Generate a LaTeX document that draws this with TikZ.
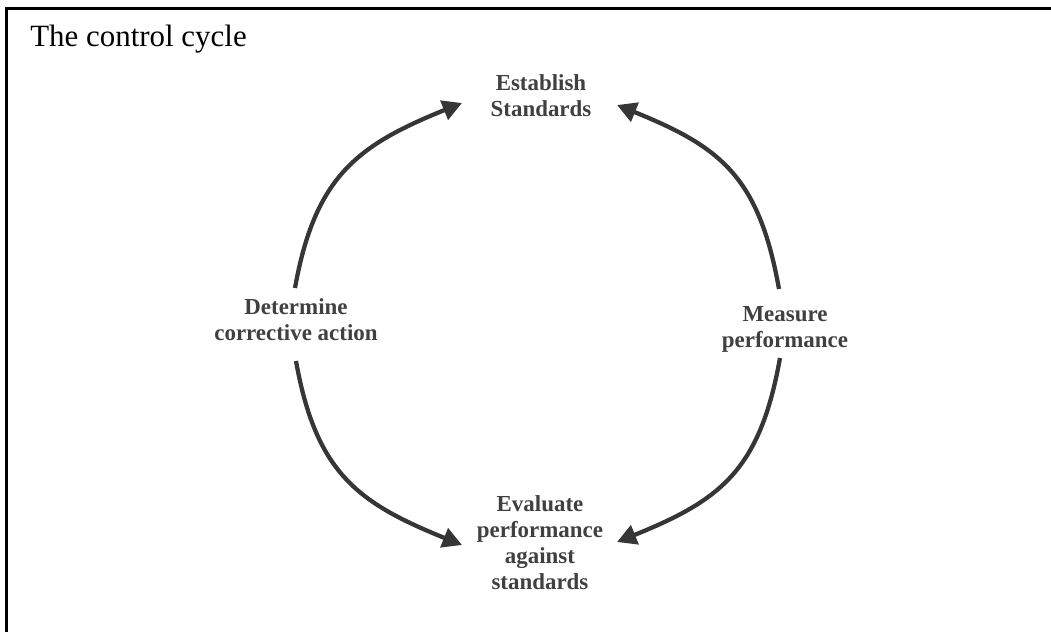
\documentclass[tikz,border=0pt]{standalone}
\usepackage{fontspec}
\setmainfont{Liberation Serif}
\usetikzlibrary{arrows.meta,calc}
\definecolor{txtgray}{HTML}{404040}
\definecolor{arrgray}{HTML}{363636}
\tikzset{
  lbl/.style={font=\fontsize{17.2pt}{19.5pt}\selectfont\bfseries, text=txtgray, align=center, inner sep=0pt},
  cyc/.style={draw=arrgray, line width=3.2pt, -{Triangle[length=14.5pt,width=15pt]}},
  frame/.style={draw=black, line width=2.3pt}
}
\begin{document}
\begin{tikzpicture}[x=0.75pt,y=-0.75pt]
\useasboundingbox (0,0) rectangle (1051,632);
\draw[frame] (6.6,634) -- (6.6,8.3) -- (1053,8.3);
\node[anchor=base west, font=\fontsize{23.2pt}{26pt}\selectfont, inner sep=0pt] (title) at (30,46) {The control cycle};
\node[lbl] (est) at (541,96) {Establish\\Standards};
\node[lbl] (det) at (296,320) {Determine\\corrective action};
\node[lbl] (meas) at (785,329) {Measure\\performance};
\node[lbl] (eval) at (540,543) {Evaluate\\performance\\against\\standards};
\draw[cyc] ($(det)+(-1,-32)$) .. controls +(20,-112) and +(-104,42) .. ($(est)+(-79,7)$);
\draw[cyc] ($(meas)+(-6,-40)$) .. controls +(-20,-112) and +(104,42) .. ($(est)+(76,9)$);
\draw[cyc] ($(meas)+(-5,29)$) .. controls +(-20,112) and +(104,-42) .. ($(eval)+(77,-1)$);
\draw[cyc] ($(det)+(0,41)$) .. controls +(20,112) and +(-104,-42) .. ($(eval)+(-78,2)$);
\end{tikzpicture}
\end{document}
